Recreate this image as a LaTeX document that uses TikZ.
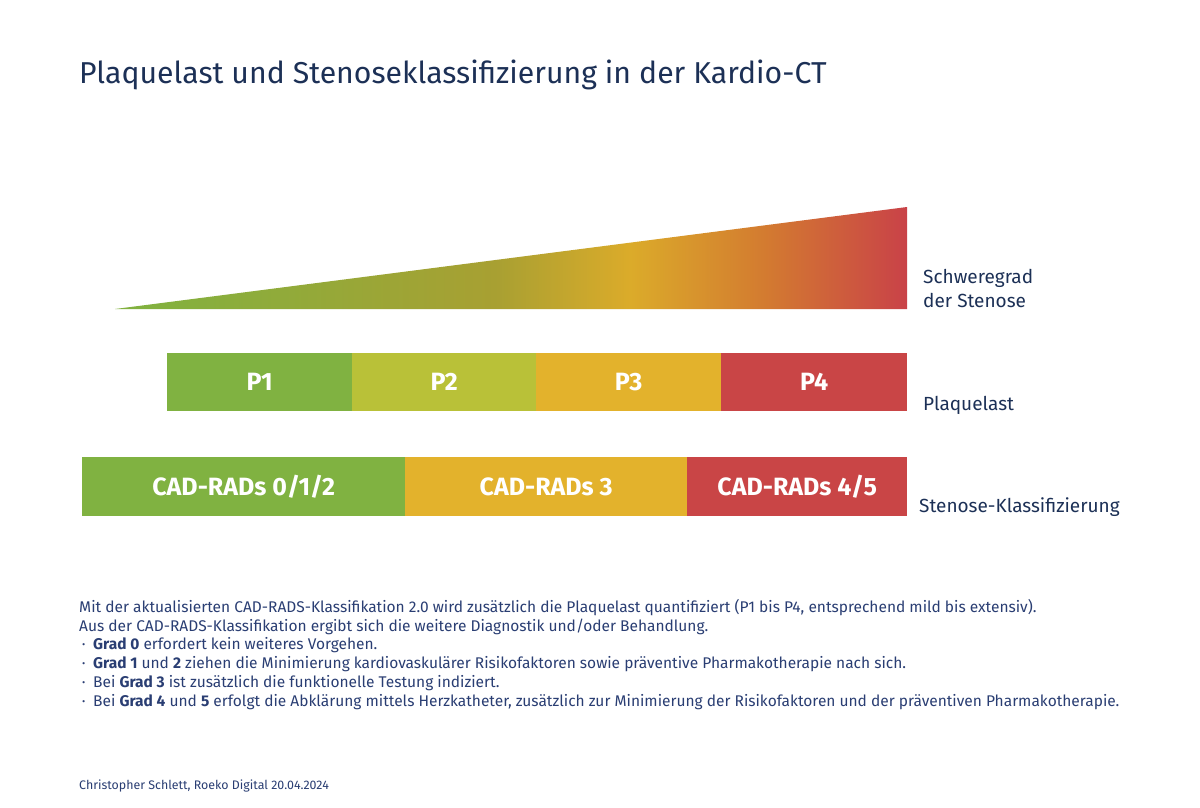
\documentclass[tikz,border=0pt]{standalone}
\usepackage{fontspec}
\setmainfont{Fira Sans}
\definecolor{navy}{RGB}{28,48,86}
\definecolor{textblue}{RGB}{42,62,115}
\definecolor{cg}{RGB}{128,178,65}
\definecolor{cl}{RGB}{185,193,56}
\definecolor{cy}{RGB}{227,178,44}
\definecolor{cr}{RGB}{201,69,70}
\definecolor{sg}{RGB}{130,177,63}
\definecolor{so}{RGB}{168,160,50}
\definecolor{sy}{RGB}{219,171,42}
\definecolor{sor}{RGB}{211,123,48}
\definecolor{sr}{RGB}{201,66,72}
\pgfdeclarehorizontalshading{sten}{100bp}{color(0bp)=(sg); color(27bp)=(sg); color(49bp)=(so); color(57.5bp)=(sy); color(66bp)=(sor); color(75bp)=(sr); color(100bp)=(sr)}
\tikzset{
  bar/.style={anchor=north west, inner sep=0pt, text=white, font=\fontsize{25}{29}\selectfont\bfseries},
  sidelabel/.style={anchor=base west, inner sep=0pt, text=navy, font=\fontsize{19}{24}\selectfont, align=left},
  bodyline/.style={anchor=base west, inner sep=0pt, text=textblue, font=\fontsize{15.5}{18}\selectfont},
}
\begin{document}
\begin{tikzpicture}[x=1pt,y=-1pt]
\useasboundingbox[fill=white] (0,0) rectangle (1200,808);
% title
\node[anchor=base west, inner sep=0pt, text=navy, font=\fontsize{30.2}{34}\selectfont] (title) at (79,84) {Plaquelast und Stenoseklassifizierung in der Kardio-CT};
% triangle
\shade[shading=sten] (115,309) -- (907,309) -- (907,207) -- cycle;
\node[sidelabel] (sev) at (923,307) {Schweregrad\\der Stenose};
% plaque bars
\node[bar, fill=cg, minimum width=185pt, minimum height=58pt] (p1) at (167,353) {P1};
\node[bar, fill=cl, minimum width=184pt, minimum height=58pt] (p2) at (352,353) {P2};
\node[bar, fill=cy, minimum width=185pt, minimum height=58pt] (p3) at (536,353) {P3};
\node[bar, fill=cr, minimum width=186pt, minimum height=58pt] (p4) at (721,353) {P4};
\node[sidelabel] (pl) at (923,410) {Plaquelast};
% CAD-RADS bars
\node[bar, fill=cg, minimum width=323pt, minimum height=59pt] (c1) at (82,457) {CAD-RADs 0/1/2};
\node[bar, fill=cy, minimum width=282pt, minimum height=59pt] (c2) at (405,457) {CAD-RADs 3};
\node[bar, fill=cr, minimum width=220pt, minimum height=59pt] (c3) at (687,457) {CAD-RADs 4/5};
\node[sidelabel] (sk) at (919,512) {Stenose-Klassifizierung};
% body text
\node[bodyline] (t1) at (79,612.5) {Mit der aktualisierten CAD-RADS-Klassifikation 2.0 wird zusätzlich die Plaquelast quantifiziert (P1 bis P4, entsprechend mild bis extensiv).};
\node[bodyline] (t2) at (79,631.2) {Aus der CAD-RADS-Klassifikation ergibt sich die weitere Diagnostik und/oder Behandlung.};
\node[bodyline] (t3) at (79,649.9) {\makebox[14pt][l]{\,·}\textbf{Grad 0} erfordert kein weiteres Vorgehen.};
\node[bodyline] (t4) at (79,668.6) {\makebox[14pt][l]{\,·}\textbf{Grad 1} und \textbf{2} ziehen die Minimierung kardiovaskulärer Risikofaktoren sowie präventive Pharmakotherapie nach sich.};
\node[bodyline] (t5) at (79,687.3) {\makebox[14pt][l]{\,·}Bei \textbf{Grad 3} ist zusätzlich die funktionelle Testung indiziert.};
\node[bodyline] (t6) at (79,706) {\makebox[14pt][l]{\,·}Bei \textbf{Grad 4} und \textbf{5} erfolgt die Abklärung mittels Herzkatheter, zusätzlich zur Minimierung der Risikofaktoren und der präventiven Pharmakotherapie.};
% footer
\node[anchor=base west, inner sep=0pt, text=textblue, font=\fontsize{12.4}{14}\selectfont] (foot) at (79,789) {Christopher Schlett, Roeko Digital 20.04.2024};
\end{tikzpicture}
\end{document}
